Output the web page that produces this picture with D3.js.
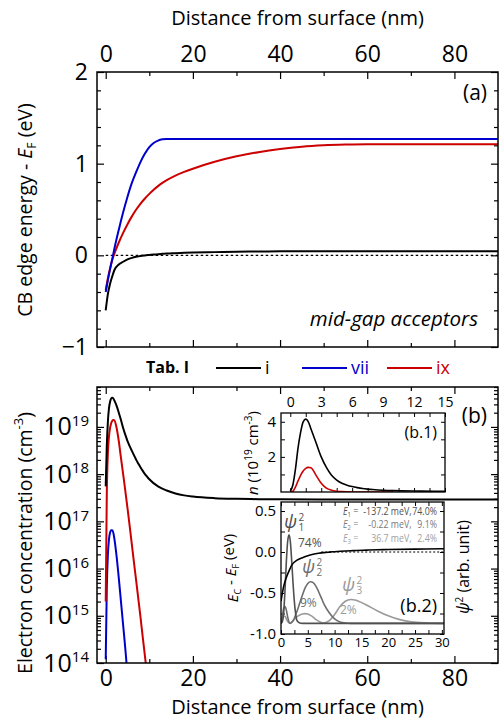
<!DOCTYPE html>
<html><head><meta charset="utf-8">
<script src="https://cdn.jsdelivr.net/npm/d3@7"></script>
<style>
body{margin:0;background:#fff}
svg text{font-family:"Open Sans",sans-serif;fill:#000}
</style></head><body>
<svg id="c" width="504" height="725"></svg>
<script>
// ---- Conduction-band edge profiles (eV), panel (a) and inset (b.2) ----
const bandDepth = [0,0.5,1,1.5,2,3,4,5,6,7,8,9,10,11,12,13,14,16,18,20,25,30,35,40,45,50,55,60,70,80,90];
const bandI   = [-0.60,-0.42,-0.31,-0.23,-0.16,-0.10,-0.07,-0.045,-0.028,-0.016,-0.007,-0.001,0.004,0.009,0.013,0.016,0.019,0.023,0.027,0.030,0.035,0.039,0.042,0.044,0.045,0.045,0.045,0.045,0.045,0.045,0.045];
const bandVii = [-0.40,-0.27,-0.15,-0.04,0.075,0.28,0.47,0.64,0.79,0.91,1.02,1.11,1.18,1.225,1.252,1.266,1.27,1.27,1.27,1.27,1.27,1.27,1.27,1.27,1.27,1.27,1.27,1.27,1.27,1.27,1.27];
const bandIx  = [-0.38,-0.25,-0.14,-0.05,0.02,0.14,0.245,0.34,0.425,0.50,0.565,0.62,0.67,0.715,0.755,0.79,0.82,0.87,0.91,0.945,1.02,1.08,1.125,1.16,1.185,1.20,1.208,1.212,1.212,1.212,1.212];

// ---- Electron concentration (cm^-3), panel (b) and inset (b.1) ----
const nDepth = [0,0.25,0.5,0.75,1,1.25,1.5,1.75,2,2.5,3,3.5,4,4.5,5,5.5,6,6.5,7,7.5,8,8.5,9,9.5,10,12,14,16,18,20,25,30,35,40,50,60,70,80,90];
const nI   = [5.5e17,4.0e18,1.3e19,2.5e19,3.4e19,4.0e19,4.15e19,4.0e19,3.6e19,2.8e19,2.0e19,1.4e19,9.5e18,6.8e18,5.0e18,3.9e18,3.1e18,2.5e18,2.0e18,1.65e18,1.38e18,1.17e18,1.0e18,8.8e17,7.8e17,5.5e17,4.5e17,3.9e17,3.55e17,3.35e17,3.1e17,3.0e17,2.95e17,2.92e17,2.9e17,2.9e17,2.9e17,2.9e17,2.9e17];
const nVii = [1.2e14,4e15,2e16,4.2e16,5.8e16,6.5e16,6.5e16,5.7e16,4.2e16,1.8e16,6.3e15,2.0e15,6.3e14,2.0e14,5.6e13,null,null,null,null,null,null,null,null,null,null,null,null,null,null,null,null,null,null,null,null,null,null,null,null];
const nIx  = [2e15,4e17,2.8e18,6.3e18,9.5e18,1.2e19,1.35e19,1.4e19,1.38e19,9.5e18,5.0e18,2.2e18,1.0e18,4.4e17,1.9e17,7.9e16,3.2e16,1.3e16,5.4e15,2.2e15,9e14,3.5e14,1.4e14,5.6e13,2.0e13,null,null,null,null,null,null,null,null,null,null,null,null,null,null];

// ---- Subband probability densities (arb. unit), inset (b.2) ----
const psiDepth = [0,0.25,0.5,0.75,1,1.25,1.5,1.75,2,2.25,2.5,2.75,3,3.5,4,4.5,5,5.5,6,6.5,7,7.5,8,9,10,11,12,13,14,15,16,18,20,22,24,26,28,30.5];
const psi1 = [0,0.02,0.12,0.38,0.7,0.93,1.0,0.92,0.7,0.45,0.24,0.1,0.03,0.005,0,0,0,0,0,0,0,0,0,0,0,0,0,0,0,0,0,0,0,0,0,0,0,0];
const psi2 = [0,0.08,0.17,0.19,0.15,0.07,0.015,0,0.01,0.03,0.06,0.1,0.14,0.23,0.32,0.40,0.45,0.47,0.46,0.42,0.36,0.29,0.22,0.12,0.05,0.015,0.004,0,0,0,0,0,0,0,0,0,0,0];
const psi3 = [0,0.04,0.08,0.08,0.05,0.02,0.005,0.005,0.015,0.03,0.045,0.06,0.075,0.095,0.105,0.11,0.105,0.09,0.07,0.045,0.025,0.01,0.005,0.03,0.1,0.19,0.25,0.27,0.26,0.235,0.205,0.14,0.085,0.045,0.02,0.008,0.002,0];
const subbandE = ["-137.2 meV,", "-0.22 meV,", "36.7 meV,"];
const subbandOcc = ["74.0%", "9.1%", "2.4%"];
const subbandPct = ["74%", "9%", "2%"];

// ---- Tick values ----
const depthMajor = [0,20,40,60,80], depthMinor = [10,30,50,70];
const energyMajor = [-1,0,1,2];
const energyMinor = d3.range(-0.8,2,0.2).filter(v => Math.abs(v - Math.round(v)) > 1e-6);
const nMajor = [1e14,1e15,1e16,1e17,1e18,1e19];
const inset1XLabels = [0,3,6,9,12,15], inset1XTicks = d3.range(0,15.01,1.5);
const inset1YLabels = [2,4], inset1YTicks = [1,2,3,4];
const inset2XLabels = [0,5,10,15,20,25,30], inset2XTicks = d3.range(0,30.01,2.5);
const inset2YLabels = [-1,-0.5,0,0.5], inset2YTicks = d3.range(-1,0.51,0.25);

const legendKeys = ["i","vii","ix"];
const legendColors = {"i":"#000000","vii":"#0000cc","ix":"#cc0000"};

// ---- Layout ----
const A  = {x0:97,  x1:498, y0:72,  y1:347};
const B  = {x0:97,  x1:498, y0:387, y1:663};
const B1 = {x0:281, x1:445, y0:413, y1:492};
const B2 = {x0:281, x1:444, y0:502, y1:634};

const xA = d3.scaleLinear([-2,90],[A.x0,A.x1]);
const yA = d3.scaleLinear([-1,2],[A.y1,A.y0]);
const xB = xA.copy();
const yB = d3.scaleLog([1e14,7e19],[B.y1,B.y0]);
const x1 = d3.scaleLinear([-0.9,15],[B1.x0,B1.x1]);
const y1 = d3.scaleLinear([0,4.5],[B1.y1,B1.y0]);
const x2 = d3.scaleLinear([0,30.4],[B2.x0,B2.x1]);
const y2 = d3.scaleLinear([-1,0.61],[B2.y1,B2.y0]);
const yPsi = d3.scaleLinear([-0.12,1.37],[B2.y1,B2.y0]);

const svg = d3.select("#c");
const defs = svg.append("defs");
function clip(id, r){ defs.append("clipPath").attr("id",id).append("rect")
  .attr("x",r.x0).attr("y",r.y0).attr("width",r.x1-r.x0).attr("height",r.y1-r.y0); }
clip("cA",A); clip("cB",B); clip("cB1",B1); clip("cB2",B2);

function addAxis(gen, at, values, size, fmt, pad, font, sw){
  const ax = gen.tickValues(values).tickSizeInner(-size).tickSizeOuter(0).tickPadding(pad||4)
    .tickFormat(fmt || (() => ""));
  const a = svg.append("g").attr("transform", at).call(ax);
  a.select(".domain").remove();
  a.attr("font-family", null).attr("font-size", null);
  a.selectAll("line").attr("stroke","#000").attr("stroke-width", sw || 1.2);
  a.selectAll("text").attr("font-size", font || 23).attr("fill","#000");
  if(!fmt) a.selectAll("text").remove();
  return a;
}
const T = (x,y) => `translate(${x},${y})`;
const hy = v => (v < 0 ? "-" : "") + d3.format(".1f")(Math.abs(v));

// ================= Panel (a) =================
addAxis(d3.axisTop(xA), T(0,A.y0), depthMajor, 7, d3.format("d"), 10);
addAxis(d3.axisTop(xA), T(0,A.y0), depthMinor, 4);
addAxis(d3.axisBottom(xA), T(0,A.y1), depthMajor, 7);
addAxis(d3.axisBottom(xA), T(0,A.y1), depthMinor, 4);
addAxis(d3.axisLeft(yA), T(A.x0,0), energyMajor, 7, d3.format("d"), 9);
addAxis(d3.axisLeft(yA), T(A.x0,0), energyMinor, 4);
addAxis(d3.axisRight(yA), T(A.x1,0), energyMajor, 7);
addAxis(d3.axisRight(yA), T(A.x1,0), energyMinor, 4);

const gA = svg.append("g").attr("clip-path","url(#cA)");
gA.append("line").attr("x1",xA(0)).attr("x2",xA(90)).attr("y1",yA(0)).attr("y2",yA(0))
  .attr("stroke","#000").attr("stroke-width",1.3).attr("stroke-dasharray","2.5,2.5");
const bandLine = d3.line().x(d => xA(d[0])).y(d => yA(d[1])).curve(d3.curveMonotoneX);
[[bandIx,"ix"],[bandVii,"vii"],[bandI,"i"]].forEach(([vals,k]) => {
  gA.append("path").attr("d", bandLine(bandDepth.map((x,i)=>[x,vals[i]])))
    .attr("fill","none").attr("stroke",legendColors[k]).attr("stroke-width",2);
});
svg.append("rect").attr("x",A.x0).attr("y",A.y0).attr("width",A.x1-A.x0).attr("height",A.y1-A.y0)
  .attr("fill","none").attr("stroke","#000").attr("stroke-width",1.5);

svg.append("text").attr("x",487).attr("y",100).attr("text-anchor","end").attr("font-size",21).text("(a)");
svg.append("text").attr("x",478).attr("y",326).attr("text-anchor","end").attr("font-size",20.5)
  .attr("font-style","italic").text("mid-gap acceptors");

svg.append("text").attr("x",(A.x0+A.x1)/2).attr("y",25).attr("text-anchor","middle").attr("font-size",20)
  .text("Distance from surface (nm)");
const ta = svg.append("text").attr("transform",`translate(32,210) rotate(-90)`).attr("text-anchor","middle").attr("font-size",19.5);
ta.append("tspan").text("CB edge energy - ");
ta.append("tspan").attr("font-style","italic").text("E");
ta.append("tspan").attr("font-size",12).attr("dy","0.3em").text("F");
ta.append("tspan").attr("dy","-0.2em").text(" (eV)");

// ================= Legend =================
svg.append("text").attr("x",146).attr("y",373).attr("font-size",16).attr("font-weight","bold").text("Tab. I");
const legendX = {"i":216,"vii":302,"ix":387};
legendKeys.forEach(k => {
  svg.append("line").attr("x1",legendX[k]).attr("x2",legendX[k]+45).attr("y1",368).attr("y2",368)
    .attr("stroke",legendColors[k]).attr("stroke-width",2);
  svg.append("text").attr("x",legendX[k]+49).attr("y",374).attr("font-size",18)
    .style("fill",legendColors[k]).text(k);
});

// ================= Panel (b) =================
addAxis(d3.axisBottom(xB), T(0,B.y1), depthMajor, 7, d3.format("d"), 7);
addAxis(d3.axisBottom(xB), T(0,B.y1), depthMinor, 4);
addAxis(d3.axisTop(xB), T(0,B.y0), depthMajor, 7);
addAxis(d3.axisTop(xB), T(0,B.y0), depthMinor, 4);
const nMinor = [];
nMajor.forEach(d => { for(let m=2;m<=9;m++){ if(d*m<=7e19) nMinor.push(d*m); } });
const la = addAxis(d3.axisLeft(yB), T(B.x0,0), nMajor, 7, d => d, 8, 25);
la.selectAll(".tick text").each(function(d){
  const t = d3.select(this); t.text("");
  t.append("tspan").text("10");
  t.append("tspan").attr("dy","-0.62em").attr("font-size",15).text(Math.round(Math.log10(d)));
});
addAxis(d3.axisLeft(yB), T(B.x0,0), nMinor, 4);
addAxis(d3.axisRight(yB), T(B.x1,0), nMajor, 7);
addAxis(d3.axisRight(yB), T(B.x1,0), nMinor, 4);

const gB = svg.append("g").attr("clip-path","url(#cB)");
const nLine = d3.line().defined(d => d[1] != null).x(d => xB(d[0])).y(d => yB(d[1])).curve(d3.curveMonotoneX);
[[nVii,"vii"],[nIx,"ix"],[nI,"i"]].forEach(([vals,k]) => {
  gB.append("path").attr("d", nLine(nDepth.map((x,i)=>[x,vals[i]])))
    .attr("fill","none").attr("stroke",legendColors[k]).attr("stroke-width",2);
});
svg.append("rect").attr("x",B.x0).attr("y",B.y0).attr("width",B.x1-B.x0).attr("height",B.y1-B.y0)
  .attr("fill","none").attr("stroke","#000").attr("stroke-width",1.5);
svg.append("text").attr("x",487).attr("y",423).attr("text-anchor","end").attr("font-size",21).text("(b)");

svg.append("text").attr("x",(B.x0+B.x1)/2).attr("y",714).attr("text-anchor","middle").attr("font-size",20)
  .text("Distance from surface (nm)");
const tb = svg.append("text").attr("transform",`translate(32,543) rotate(-90)`).attr("text-anchor","middle").attr("font-size",19.5);
tb.append("tspan").text("Electron concentration (cm");
tb.append("tspan").attr("font-size",13).attr("dy","-0.7em").text("-3");
tb.append("tspan").attr("dy","0.45em").text(")");

// ================= Inset (b.1) =================
svg.append("rect").attr("x",B1.x0).attr("y",B1.y0).attr("width",B1.x1-B1.x0).attr("height",B1.y1-B1.y0).attr("fill","#fff");
addAxis(d3.axisTop(x1), T(0,B1.y0), inset1XLabels, 0, d3.format("d"), 6, 14);
addAxis(d3.axisTop(x1), T(0,B1.y0), inset1XTicks, 4, null, 0, 14, 1);
addAxis(d3.axisBottom(x1), T(0,B1.y1), inset1XTicks, 4, null, 0, 14, 1);
addAxis(d3.axisLeft(y1), T(B1.x0,0), inset1YLabels, 0, d3.format("d"), 5, 15);
addAxis(d3.axisLeft(y1), T(B1.x0,0), inset1YTicks, 4, null, 0, 14, 1);
addAxis(d3.axisRight(y1), T(B1.x1,0), inset1YTicks, 4, null, 0, 14, 1);
const g1 = svg.append("g").attr("clip-path","url(#cB1)");
const linLine = d3.line().defined(d => d[1] != null).x(d => x1(d[0])).y(d => y1(d[1]/1e19)).curve(d3.curveMonotoneX);
[[nIx,"ix"],[nI,"i"]].forEach(([vals,k]) => {
  g1.append("path").attr("d", linLine(nDepth.map((x,i)=>[x,vals[i]])))
    .attr("fill","none").attr("stroke",legendColors[k]).attr("stroke-width",1.6);
});
svg.append("rect").attr("x",B1.x0).attr("y",B1.y0).attr("width",B1.x1-B1.x0).attr("height",B1.y1-B1.y0)
  .attr("fill","none").attr("stroke","#000").attr("stroke-width",1.3);
svg.append("text").attr("x",437).attr("y",438).attr("text-anchor","end").attr("font-size",16).text("(b.1)");
const t1 = svg.append("text").attr("transform",`translate(258,453) rotate(-90)`).attr("text-anchor","middle").attr("font-size",15);
t1.append("tspan").attr("font-style","italic").text("n");
t1.append("tspan").text(" (10");
t1.append("tspan").attr("font-size",10).attr("dy","-0.6em").text("19");
t1.append("tspan").attr("dy","0.4em").text(" cm");
t1.append("tspan").attr("font-size",10).attr("dy","-0.6em").text("-3");
t1.append("tspan").attr("dy","0.4em").text(")");

// ================= Inset (b.2) =================
svg.append("rect").attr("x",B2.x0).attr("y",B2.y0).attr("width",B2.x1-B2.x0).attr("height",B2.y1-B2.y0).attr("fill","#fff");
addAxis(d3.axisBottom(x2), T(0,B2.y1), inset2XLabels, 0, d3.format("d"), 4, 13);
addAxis(d3.axisBottom(x2), T(0,B2.y1), inset2XTicks, 4, null, 0, 13, 1);
addAxis(d3.axisTop(x2), T(0,B2.y0), inset2XTicks, 4, null, 0, 13, 1);
addAxis(d3.axisLeft(y2), T(B2.x0,0), inset2YLabels, 0, hy, 5, 15);
addAxis(d3.axisLeft(y2), T(B2.x0,0), inset2YTicks, 4, null, 0, 13, 1);
addAxis(d3.axisRight(y2), T(B2.x1,0), inset2YTicks, 4, null, 0, 13, 1);
const g2 = svg.append("g").attr("clip-path","url(#cB2)");
g2.append("line").attr("x1",x2(7.5)).attr("x2",x2(30.4)).attr("y1",y2(0)).attr("y2",y2(0))
  .attr("stroke","#000").attr("stroke-width",1.2).attr("stroke-dasharray","2,2");
const psiLine = d3.line().x(d => x2(d[0])).y(d => yPsi(d[1])).curve(d3.curveMonotoneX);
const psiColors = ["#9a9a9a","#6e6e6e","#505050"];
[psi3,psi2,psi1].forEach((vals,i) => {
  g2.append("path").attr("d", psiLine(psiDepth.map((x,j)=>[x,vals[j]])))
    .attr("fill","none").attr("stroke",psiColors[i]).attr("stroke-width",1.6);
});
const band2 = d3.line().x(d => x2(d[0])).y(d => y2(d[1])).curve(d3.curveMonotoneX);
g2.append("path").attr("d", band2(bandDepth.map((x,i)=>[x,bandI[i]])))
  .attr("fill","none").attr("stroke","#000").attr("stroke-width",1.6);
svg.append("rect").attr("x",B2.x0).attr("y",B2.y0).attr("width",B2.x1-B2.x0).attr("height",B2.y1-B2.y0)
  .attr("fill","none").attr("stroke","#000").attr("stroke-width",1.3);

// subband energies and occupations, set in a horizontally condensed block
const eCol = ["#505050","#7a7a7a","#a0a0a0"];
const sx = 0.84;
[0,1,2].forEach(i => {
  const y = 515 + i*13.3;
  const g = svg.append("g").attr("transform",`translate(0,${y}) scale(${sx},1)`);
  const t = g.append("text").attr("x",343/sx).attr("y",0).attr("font-size",10.5).style("fill",eCol[i]);
  t.append("tspan").attr("font-style","italic").text("E");
  t.append("tspan").attr("font-size",7).attr("dy","0.3em").text(i+1);
  t.append("tspan").attr("dy","-0.3em").text(" =");
  g.append("text").attr("x",411.5/sx).attr("y",0).attr("text-anchor","end").attr("font-size",10.5).style("fill",eCol[i]).text(subbandE[i]);
  g.append("text").attr("x",437/sx).attr("y",0).attr("text-anchor","end").attr("font-size",10.5).style("fill",eCol[i]).text(subbandOcc[i]);
});

// wavefunction labels: psi with stacked superscript 2 and subband index
const psiLab = [
  {x:284,y:528,c:"#505050",p:{x:298,y:547}},
  {x:302,y:573,c:"#6e6e6e",p:{x:300,y:607}},
  {x:342,y:591,c:"#9a9a9a",p:{x:340,y:614}}];
psiLab.forEach((L,i) => {
  svg.append("text").attr("x",L.x).attr("y",L.y).attr("font-size",18).attr("font-style","italic").style("fill",L.c).text("ψ");
  svg.append("text").attr("x",L.x+14.5).attr("y",L.y-7).attr("font-size",10).style("fill",L.c).text("2");
  svg.append("text").attr("x",L.x+14.5).attr("y",L.y+3).attr("font-size",10).style("fill",L.c).text(i+1);
  svg.append("text").attr("x",L.p.x).attr("y",L.p.y).attr("font-size",12).style("fill",L.c).text(subbandPct[i]);
});
svg.append("text").attr("x",437).attr("y",612).attr("text-anchor","end").attr("font-size",18).text("(b.2)");

const t2 = svg.append("text").attr("transform",`translate(238,568) rotate(-90)`).attr("text-anchor","middle").attr("font-size",15);
t2.append("tspan").attr("font-style","italic").text("E");
t2.append("tspan").attr("font-size",9).attr("dy","0.3em").text("C");
t2.append("tspan").attr("dy","-0.3em").text(" - ");
t2.append("tspan").attr("font-style","italic").text("E");
t2.append("tspan").attr("font-size",9).attr("dy","0.3em").text("F");
t2.append("tspan").attr("dy","-0.3em").text(" (eV)");

const t3 = svg.append("text").attr("transform",`translate(469,567) rotate(-90)`).attr("text-anchor","middle").attr("font-size",16);
t3.append("tspan").attr("font-style","italic").text("ψ");
t3.append("tspan").attr("font-size",10).attr("dy","-0.6em").text("2");
t3.append("tspan").attr("dy","0.4em").text(" (arb. unit)");
</script>
</body></html>
